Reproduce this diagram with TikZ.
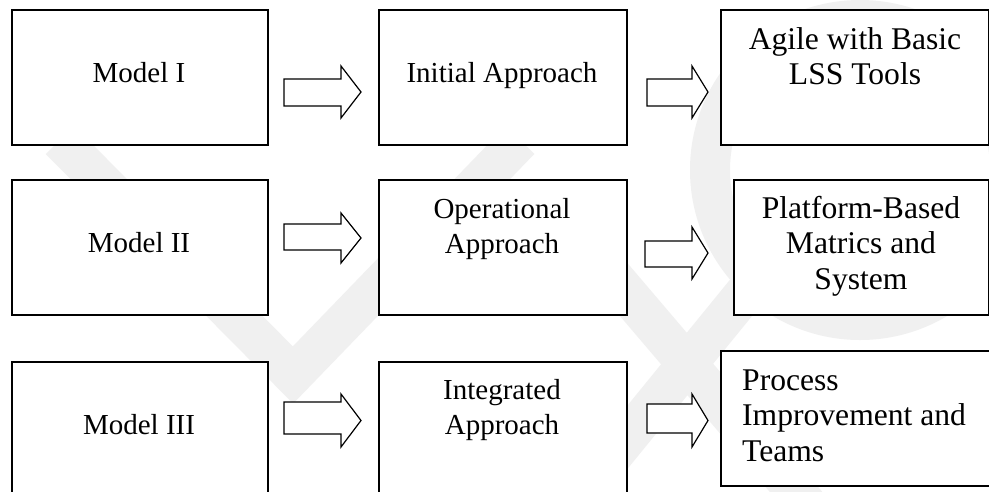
\documentclass[tikz,border=0pt]{standalone}
\usepackage{fontspec}
\setmainfont{Liberation Serif}

% block arrow: x0, x head base, x tip, shaft top, shaft bottom, head top, head bottom
\newcommand\blockarr[7]{%
  \draw[barrow] (#1,#4) -- (#2,#4) -- (#2,#6) -- (#3,{(#6+#7)/2})
    -- (#2,#7) -- (#2,#5) -- (#1,#5) -- cycle;}

\begin{document}
\begin{tikzpicture}[x=1pt,y=-1pt,
  box/.style={draw, fill=white, line width=1.6pt, inner sep=0pt, anchor=north west},
  midtxt/.style={inner sep=0pt, anchor=base, font=\fontsize{29}{35}\selectfont},
  righttxt/.style={inner sep=0pt, anchor=base, font=\fontsize{31.6}{35.5}\selectfont},
  barrow/.style={draw, fill=white, line width=1.2pt, line join=miter},
  mark band/.style={draw=black!6, line width=40pt}]
\useasboundingbox (0,0) rectangle (989,491);
\clip (0,0) rectangle (989,491);
\fill[white] (0,0) rectangle (989,491);

% faint background emblem
\draw[mark band] (860,170) circle[radius=150];
\draw[mark band, line join=miter] (60,140) -- (293,375) -- (520,140);
\draw[mark band] (560,520) -- (780,250);
\draw[mark band] (590,250) -- (820,520);

% row 1
\node[box, minimum width=256pt, minimum height=135pt] (m1) at (11,9) {};
\node[box, minimum width=248pt, minimum height=135pt] (a1) at (378,9) {};
\node[box, minimum width=268pt, minimum height=135pt] (r1) at (720,9) {};
% row 2
\node[box, minimum width=256pt, minimum height=135pt] (m2) at (11,179) {};
\node[box, minimum width=248pt, minimum height=135pt] (a2) at (378,179) {};
\node[box, minimum width=255pt, minimum height=135pt] (r2) at (733,179) {};
% row 3 (lower boxes run past the bottom edge)
\node[box, minimum width=256pt, minimum height=160pt] (m3) at (11,361) {};
\node[box, minimum width=248pt, minimum height=160pt] (a3) at (378,361) {};
\node[box, minimum width=285pt, minimum height=135pt] (r3) at (720,350) {};

% labels
\node[midtxt] (tm1) at (139,82) {Model I};
\node[midtxt] (ta1) at (502,82) {Initial Approach};
\node[righttxt] (tr1) at (855,49) {\begin{tabular}[t]{@{}c@{}}Agile with Basic\\LSS Tools\end{tabular}};

\node[midtxt] (tm2) at (139,252) {Model II};
\node[midtxt] (ta2) at (502,218) {\begin{tabular}[t]{@{}c@{}}Operational\\Approach\end{tabular}};
\node[righttxt] (tr2) at (861,218) {\begin{tabular}[t]{@{}c@{}}Platform-Based\\Matrics and\\System\end{tabular}};

\node[midtxt] (tm3) at (139,434) {Model III};
\node[midtxt] (ta3) at (502,399) {\begin{tabular}[t]{@{}c@{}}Integrated\\Approach\end{tabular}};
\node[righttxt, anchor=base west] (tr3) at (742,390) {\begin{tabular}[t]{@{}l@{}}Process\\Improvement and\\Teams\end{tabular}};

% block arrows between the boxes
\blockarr{284}{341}{361}{79}{106}{66}{118}
\blockarr{647}{692}{708}{79}{106}{66}{118}
\blockarr{284}{341}{361}{224}{250}{213}{263}
\blockarr{645}{692}{708}{241}{267}{227}{279}
\blockarr{284}{341}{361}{402}{434}{394}{447}
\blockarr{647}{692}{708}{404}{433}{394}{447}
\end{tikzpicture}
\end{document}
